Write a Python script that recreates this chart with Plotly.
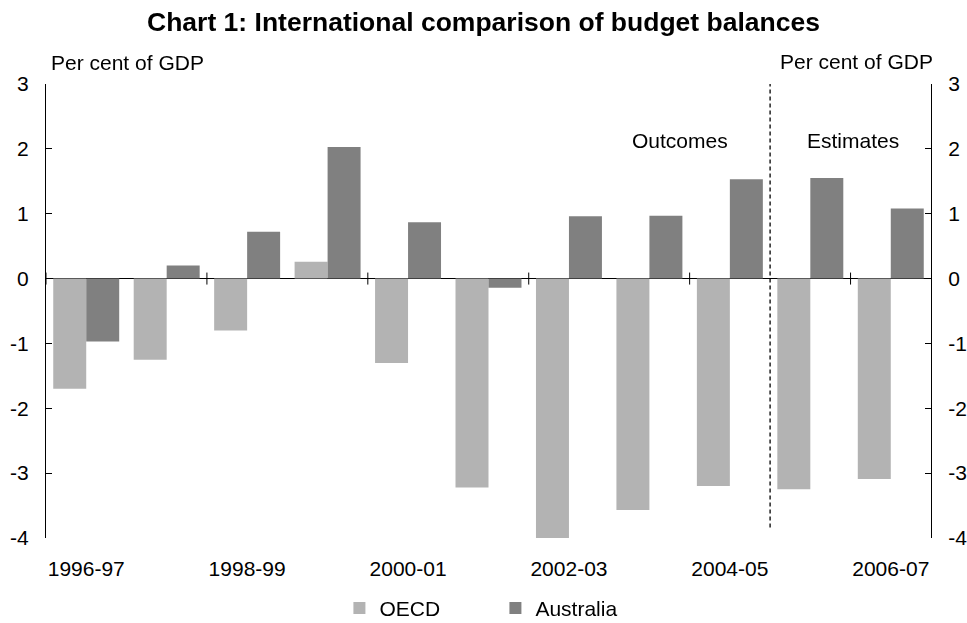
import plotly.graph_objects as go

years = ["1996-97", "1997-98", "1998-99", "1999-00", "2000-01", "2001-02",
         "2002-03", "2003-04", "2004-05", "2005-06", "2006-07"]
oecd = [-1.70, -1.25, -0.80, 0.26, -1.30, -3.22, -4.04, -3.57, -3.20, -3.25, -3.09]
australia = [-0.97, 0.20, 0.72, 2.03, 0.87, -0.14, 0.96, 0.97, 1.53, 1.55, 1.08]
ytick_vals = [-4, -3, -2, -1, 0, 1, 2, 3]
ytick_text = ["-4", "-3", "-2", "-1", "0", "1", "2", "3"]

FONT = "Liberation Sans, Arial, sans-serif"
FS = 21

xidx = list(range(len(years)))

fig = go.Figure()
fig.add_trace(go.Bar(x=xidx, y=oecd, name="OECD", marker=dict(color="#b3b3b3", line=dict(width=0)),
                     cliponaxis=False))
fig.add_trace(go.Bar(x=xidx, y=australia, name="Australia", marker=dict(color="#808080", line=dict(width=0)),
                     cliponaxis=False))
# invisible trace to carry the right-hand axis
fig.add_trace(go.Scatter(x=xidx, y=australia, yaxis="y2", mode="markers", opacity=0,
                         showlegend=False, hoverinfo="skip"))

label_idx = xidx[::2]
fig.update_layout(
    width=967, height=623,
    margin=dict(l=46, r=36, t=84, b=85, autoexpand=False),
    paper_bgcolor="white", plot_bgcolor="white",
    font=dict(family=FONT, size=FS, color="black"),
    title=dict(text="<b>Chart 1: International comparison of budget balances</b>",
               x=0.5, xanchor="center", y=0.965, yanchor="middle",
               font=dict(family=FONT, size=26.5, color="black")),
    barmode="group", bargap=0.18, bargroupgap=0,
    showlegend=True,
    legend=dict(orientation="h", xref="container", yref="paper", x=0.351, xanchor="left",
                y=-0.155, yanchor="middle", tracegroupgap=0,
                font=dict(family=FONT, size=FS), itemwidth=30, entrywidth=111, entrywidthmode="pixels",
                bgcolor="rgba(0,0,0,0)"),
    xaxis=dict(range=[-0.5, len(years) - 0.5], tickmode="array", tickvals=label_idx,
               ticktext=[years[i] for i in label_idx], ticks="", showline=False,
               showgrid=False, zeroline=False, ticklabelstandoff=16, automargin=False,
               tickfont=dict(family=FONT, size=FS)),
    yaxis=dict(range=[-4, 3], tickmode="array", tickvals=ytick_vals, ticktext=ytick_text,
               ticks="inside", ticklen=6,
               tickcolor="black", showline=True, linecolor="black", linewidth=1,
               showgrid=False, zeroline=True, zerolinecolor="black", zerolinewidth=1,
               ticklabelstandoff=12, automargin=False, tickfont=dict(family=FONT, size=FS)),
    yaxis2=dict(range=[-4, 3], overlaying="y", side="right", tickmode="array", tickvals=ytick_vals,
                ticktext=ytick_text,
                ticks="inside", ticklen=6, tickcolor="black", showline=True, linecolor="black",
                linewidth=1, showgrid=False, zeroline=False, ticklabelstandoff=12, automargin=False,
                tickfont=dict(family=FONT, size=FS)),
)

# tick marks crossing the zero line at every second category boundary
for b in [i - 0.5 for i in xidx[::2]]:
    fig.add_shape(type="line", xref="x", yref="y", x0=b, x1=b, ysizemode="pixel", yanchor=0,
                  y0=-6, y1=6, line=dict(color="black", width=1))

# dashed divider between outcomes and estimates
div = 8.5
fig.add_shape(type="line", xref="x", yref="y", x0=div, x1=div, y0=-3.84, y1=3.13,
              line=dict(color="black", width=1.3, dash="4px,3px"))

fig.add_annotation(text="Per cent of GDP", xref="paper", yref="paper", x=0.0035, y=1.047,
                   xanchor="left", yanchor="middle", showarrow=False, font=dict(size=FS))
fig.add_annotation(text="Per cent of GDP", xref="paper", yref="paper", x=1.005, y=1.049,
                   xanchor="right", yanchor="middle", showarrow=False, font=dict(size=FS))
fig.add_annotation(text="Outcomes", xref="x", yref="y", x=7.38, y=2.13, showarrow=False,
                   font=dict(size=FS))
fig.add_annotation(text="Estimates", xref="x", yref="y", x=9.53, y=2.13, showarrow=False,
                   font=dict(size=FS))

fig.write_html("out.html")
